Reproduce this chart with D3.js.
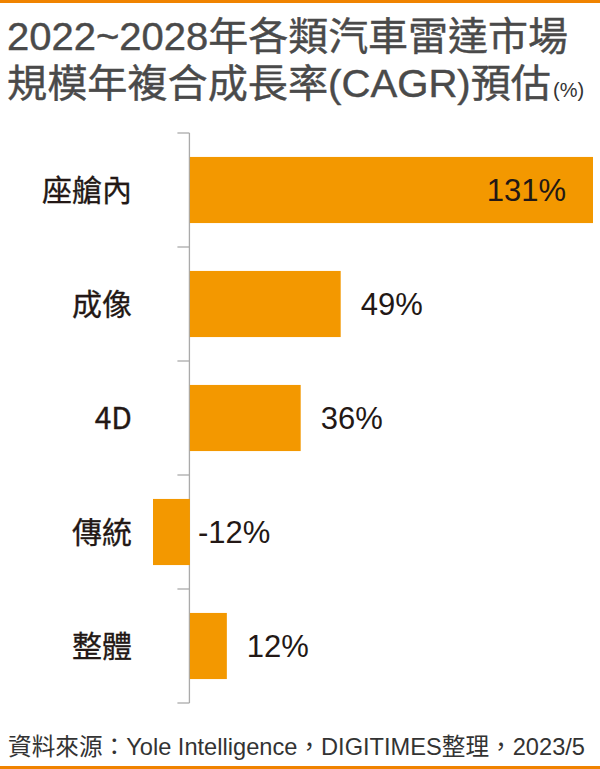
<!DOCTYPE html>
<html>
<head>
<meta charset="utf-8">
<script src="https://cdn.jsdelivr.net/npm/d3@7"></script>
<style>
  body { margin: 0; background: #fff; }
  svg { display: block; }
</style>
</head>
<body>
<div id="chart"></div>
<script>
// chart data
var categories = ["座艙內", "成像", "4D", "傳統", "整體"];
var cagr = [131, 49, 36, -12, 12];
var titleLines = ["2022~2028年各類汽車雷達市場", "規模年複合成長率(CAGR)預估"];
var titleUnit = "(%)";
var source = "資料來源：Yole Intelligence，DIGITIMES整理，2023/5";

var width = 600, height = 769;
var orange = "#f39800";
var ink = "#231815";
var latin = "'Liberation Sans', Arial, 'Noto Sans CJK TC', sans-serif";
var cjk = "'Noto Sans CJK TC', 'Liberation Sans', sans-serif";

var svg = d3.select("#chart").append("svg")
    .attr("width", width)
    .attr("height", height);

// orange rules top and bottom
svg.append("rect").attr("x", 0).attr("y", 0).attr("width", width).attr("height", 3).attr("fill", "#f08300");
svg.append("rect").attr("x", 0).attr("y", 766).attr("width", width).attr("height", 3).attr("fill", "#f08300");

// title
var title = svg.append("g")
    .attr("font-family", latin)
    .attr("fill", "#4a4a4a");

title.append("text")
    .attr("x", 7).attr("y", 50)
    .attr("font-size", 39)
    .attr("stroke", "#4a4a4a").attr("stroke-width", 0.4)
    .attr("textLength", 561).attr("lengthAdjust", "spacingAndGlyphs")
    .text(titleLines[0]);

title.append("text")
    .attr("x", 7).attr("y", 97)
    .attr("font-size", 39)
    .attr("stroke", "#4a4a4a").attr("stroke-width", 0.4)
    .attr("textLength", 544).attr("lengthAdjust", "spacingAndGlyphs")
    .text(titleLines[1]);

title.append("text")
    .attr("x", 553).attr("y", 97)
    .attr("font-size", 20)
    .attr("fill", "#333333")
    .text(titleUnit);

// scales
var x = d3.scaleLinear()
    .domain([-12, 131])
    .range([153, 593]);

var band = d3.scaleBand()
    .domain(categories)
    .range([133, 703]);

var y = d3.scaleBand()
    .domain(categories)
    .range([133, 703])
    .paddingInner(0.42)
    .paddingOuter(0.21);

// axis line and ticks at band boundaries
var axisX = x(0) - 0.5;
var bounds = categories.map(function(c) { return band(c); }).concat([band.range()[1]]);

svg.append("line")
    .attr("x1", axisX).attr("x2", axisX)
    .attr("y1", bounds[0]).attr("y2", bounds[bounds.length - 1])
    .attr("stroke", "#aaaaaa").attr("stroke-width", 1.3);

svg.selectAll(".tick")
    .data(bounds)
  .enter().append("line")
    .attr("class", "tick")
    .attr("x1", axisX - 12).attr("x2", axisX)
    .attr("y1", function(d) { return d; })
    .attr("y2", function(d) { return d; })
    .attr("stroke", "#aaaaaa").attr("stroke-width", 1.3);

var rows = categories.map(function(c, i) { return { name: c, value: cagr[i] }; });

// bars
svg.selectAll(".bar")
    .data(rows)
  .enter().append("rect")
    .attr("class", "bar")
    .attr("x", function(d) { return x(Math.min(0, d.value)); })
    .attr("y", function(d) { return y(d.name); })
    .attr("width", function(d) { return Math.abs(x(d.value) - x(0)); })
    .attr("height", y.bandwidth())
    .attr("fill", orange);

// category labels
svg.selectAll(".cat")
    .data(rows)
  .enter().append("text")
    .attr("class", "cat")
    .attr("x", 132)
    .attr("y", function(d) { return band(d.name) + band.bandwidth() / 2; })
    .attr("dy", "0.36em")
    .attr("text-anchor", "end")
    .attr("font-family", cjk)
    .attr("font-weight", 400)
    .attr("font-size", 30)
    .attr("fill", ink)
    .attr("stroke", ink).attr("stroke-width", 0.3)
    .text(function(d) { return d.name; });

// value labels: inside the longest bar, outside the others
var maxVal = d3.max(cagr);
svg.selectAll(".val")
    .data(rows)
  .enter().append("text")
    .attr("class", "val")
    .attr("x", function(d) {
      if (d.value == maxVal) return x(d.value) - 27;
      if (d.value < 0) return x(0) + 8;
      return x(d.value) + 20;
    })
    .attr("y", function(d) { return y(d.name) + y.bandwidth() / 2; })
    .attr("dy", "0.36em")
    .attr("text-anchor", function(d) { return d.value == maxVal ? "end" : "start"; })
    .attr("font-family", latin)
    .attr("font-size", 31)
    .attr("fill", ink)
    .text(function(d) { return d.value + "%"; });

// source note
svg.append("text")
    .attr("x", 8).attr("y", 755)
    .attr("font-family", latin)
    .attr("font-size", 24)
    .attr("fill", "#333333")
    .attr("textLength", 577).attr("lengthAdjust", "spacingAndGlyphs")
    .text(source);
</script>
</body>
</html>
